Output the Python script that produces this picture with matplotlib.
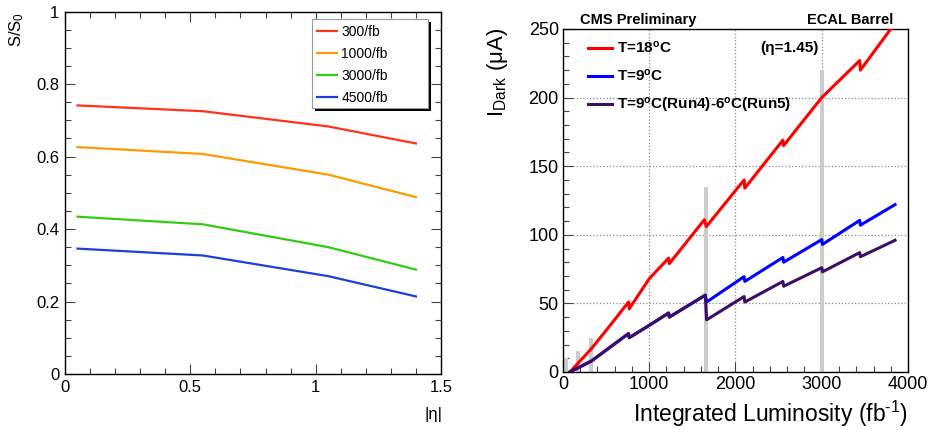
import matplotlib.pyplot as plt
from matplotlib.patches import Rectangle
from matplotlib.ticker import MultipleLocator, FuncFormatter

plt.rcParams['font.family'] = ['Liberation Sans', 'DejaVu Sans']
plt.rcParams['mathtext.fontset'] = 'custom'
plt.rcParams['mathtext.rm'] = 'Liberation Sans'
plt.rcParams['mathtext.bf'] = 'Liberation Sans:bold'
plt.rcParams['mathtext.it'] = 'Liberation Sans:italic'

# left panel: signal loss vs |eta|
eta = [0.05, 0.55, 1.05, 1.4]
lumi_labels = ['300/fb', '1000/fb', '3000/fb', '4500/fb']
s300 = [0.741, 0.725, 0.683, 0.636]
s1000 = [0.626, 0.607, 0.550, 0.488]
s3000 = [0.434, 0.413, 0.350, 0.288]
s4500 = [0.346, 0.327, 0.270, 0.214]
left_colors = ['#ff3319', '#ff9900', '#33cc11', '#1a40d9']

# right panel: dark current vs integrated luminosity
red_x = [80, 330, 560, 760, 768, 1000, 1225, 1233, 1640, 1662, 2100, 2108, 2550, 2558, 3000, 3440, 3448, 3800]
red_y = [0, 17, 35, 51, 46, 68, 83, 79, 111, 106, 140, 134, 169, 165, 200, 227, 220, 250]
blue_x = [80, 330, 760, 768, 1000, 1225, 1233, 1650, 1665, 2100, 2108, 2550, 2558, 3000, 3008, 3440, 3448, 3850]
blue_y = [0, 8, 28, 25, 34, 43, 40, 56, 51, 69.5, 66, 83.5, 80, 96.5, 93, 110.5, 107, 122]
purple_x = [80, 330, 760, 768, 1000, 1225, 1233, 1650, 1665, 2100, 2108, 2550, 2558, 3000, 3008, 3440, 3448, 3850]
purple_y = [0, 8, 28, 25, 34, 43, 40, 56, 38, 55, 51, 66, 62.5, 76, 73, 87, 84, 96]
bar_x = [30, 178, 330, 1660, 3000]
bar_h = [10, 15, 25, 135, 220]

fig = plt.figure(figsize=(9.31, 4.30), dpi=100)

# ---- left
ax1 = fig.add_axes([0.0698, 0.1302, 0.4039, 0.843])
for vals, lab, c in zip([s300, s1000, s3000, s4500], lumi_labels, left_colors):
    ax1.plot(eta, vals, color=c, lw=1.6, label=lab)
ax1.set_xlim(0, 1.5)
ax1.set_ylim(0, 1)
ax1.xaxis.set_major_locator(MultipleLocator(0.5))
ax1.xaxis.set_minor_locator(MultipleLocator(0.1))
ax1.yaxis.set_major_locator(MultipleLocator(0.2))
ax1.yaxis.set_minor_locator(MultipleLocator(0.05))
fmt = FuncFormatter(lambda v, p: '%g' % round(v, 3))
ax1.xaxis.set_major_formatter(fmt)
ax1.yaxis.set_major_formatter(fmt)
ax1.tick_params(which='both', direction='in', top=True, right=True, labelsize=12, width=0.8, color='#444444')
ax1.tick_params(which='major', length=7, pad=4)
ax1.tick_params(which='minor', length=4)
for s in ax1.spines.values():
    s.set_linewidth(1.0)
fig.text(0.0183, 0.973, r'S/S$_0$', rotation=90, ha='center', va='top', fontsize=12)
fig.text(0.466, 0.035, '|η|', ha='center', va='center', fontsize=12)

# ROOT style legend box with black shadow
fig.patches.append(Rectangle((315 / 931, 1 - 111 / 430), 116 / 931, 89 / 430,
                             transform=fig.transFigure, facecolor='black', edgecolor='none', zorder=5))
fig.patches.append(Rectangle((312 / 931, 1 - 108 / 430), 116 / 931, 89 / 430,
                             transform=fig.transFigure, facecolor='white', edgecolor='#999999',
                             lw=0.8, zorder=6))
leg = ax1.legend(loc='upper left', bbox_to_anchor=(317 / 931, 1 - 25 / 430),
                 bbox_transform=fig.transFigure, fontsize=10, frameon=False,
                 handlelength=1.45, handletextpad=0.3, labelspacing=0.58,
                 borderpad=0, borderaxespad=0)
leg.set_zorder(7)
leg.set_figure(fig)
ax1.legend_ = None
fig.legends.append(leg)

# ---- right
ax2 = fig.add_axes([0.6047, 0.1349, 0.3706, 0.7977])
ax2.bar(bar_x, bar_h, width=45, color='#cccccc', zorder=1)
ax2.plot(red_x, red_y, color='#ff0000', lw=2.2, zorder=3, label=r'T=18$^{\mathbf{o}}$C')
ax2.plot(blue_x, blue_y, color='#0000ff', lw=2.2, zorder=3, label=r'T=9$^{\mathbf{o}}$C')
ax2.plot(purple_x, purple_y, color='#3b0f66', lw=2.2, zorder=4,
         label=r'T=9$^{\mathbf{o}}$C(Run4)-6$^{\mathbf{o}}$C(Run5)')
ax2.set_xlim(0, 4000)
ax2.set_ylim(0, 250)
ax2.xaxis.set_major_locator(MultipleLocator(1000))
ax2.xaxis.set_minor_locator(MultipleLocator(200))
ax2.yaxis.set_major_locator(MultipleLocator(50))
ax2.yaxis.set_minor_locator(MultipleLocator(10))
ax2.grid(True, which='major', ls=':', color='#888888', lw=0.9, zorder=0)
ax2.set_axisbelow(True)
ax2.tick_params(which='both', direction='in', labelsize=13, width=0.8, color='#444444')
ax2.tick_params(which='major', length=7, pad=3)
ax2.tick_params(which='minor', length=4)
for s in ax2.spines.values():
    s.set_linewidth(1.0)
ax2.set_xlabel(r'Integrated Luminosity (fb$^{\text{-}1}$)', fontsize=16.5, loc='right', labelpad=4)
fig.text(498 / 931, 1 - 28 / 430, r'I$_{\rm Dark}$ (μA)', rotation=90, ha='center', va='top', fontsize=16)
leg2 = ax2.legend(loc='upper left', bbox_to_anchor=(588 / 931, 1 - 40 / 430),
                  bbox_transform=fig.transFigure, frameon=False,
                  prop={'weight': 'bold', 'size': 11}, handlelength=1.6, handletextpad=0.33,
                  labelspacing=0.78, borderpad=0, borderaxespad=0)
fig.text(0.848, 0.888, '(η=1.45)', ha='center', va='center', fontsize=11, fontweight='bold')
fig.text(0.686, 0.953, 'CMS Preliminary', ha='center', va='center', fontsize=10.5, fontweight='bold')
fig.text(0.913, 0.953, 'ECAL Barrel', ha='center', va='center', fontsize=10.5, fontweight='bold')

fig.savefig('out.png', dpi=100)
